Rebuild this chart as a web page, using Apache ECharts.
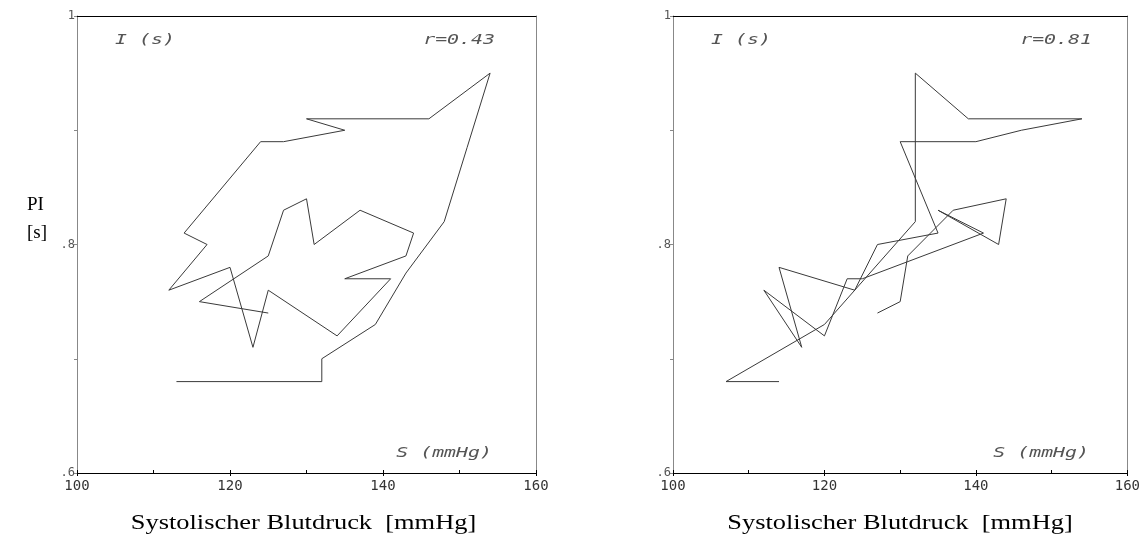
<!DOCTYPE html>
<html>
<head>
<meta charset="utf-8">
<script src="https://cdn.jsdelivr.net/npm/echarts@6/dist/echarts.min.js"></script>
<style>
  html, body { margin: 0; padding: 0; background: #fff; }
  #chart { width: 1143px; height: 546px; }
</style>
</head>
<body>
<div id="chart"></div>
<script>
// Pulse interval I (s) against systolic pressure S (mmHg), two loops
const leftS  = [113,132,132,139,143,148,151,154,146,130,135,127,124,114,117,112,120,123,125,134,141,135,143,144,137,131,130,127,125,116,125];
const leftI  = [0.68,0.68,0.70,0.73,0.775,0.82,0.885,0.95,0.91,0.91,0.90,0.89,0.89,0.81,0.80,0.76,0.78,0.71,0.76,0.72,0.77,0.77,0.79,0.81,0.83,0.80,0.84,0.83,0.79,0.75,0.74];
const rightS = [114,107,120,132,132,139,154,146,140,130,135,127,124,114,117,112,120,123,125,141,135,143,144,137,131,130,127];
const rightI = [0.68,0.68,0.73,0.82,0.95,0.91,0.91,0.90,0.89,0.89,0.81,0.80,0.76,0.78,0.71,0.76,0.72,0.77,0.77,0.81,0.83,0.80,0.84,0.83,0.79,0.75,0.74];

const rLabels = ['r=0.43', 'r=0.81'];
const xLabelValues = [100, 120, 140, 160];
const yLabelValues = [0.6, 0.8, 1];
const yLabelTexts  = ['.6', '.8', '1'];
const yAxisName = ['PI', '[s]'];
const xAxisTitle = 'Systolischer Blutdruck  [mmHg]';
const innerYName = 'I (s)';
const innerXName = 'S (mmHg)';

const grids = [
  { left: 77, top: 16, width: 459, height: 457 },
  { left: 673, top: 16, width: 460, height: 457 }
];

const tickFont = 'DejaVu Sans Mono';
const xAxes = [], yAxes = [];
grids.forEach((g, i) => {
  xAxes.push({
    gridIndex: i, type: 'value', min: 100, max: 160, interval: 10, position: 'bottom',
    axisLine: { lineStyle: { color: '#000', width: 1 } },
    axisTick: { inside: true, length: 3, lineStyle: { color: '#000' } },
    splitLine: { show: false },
    axisLabel: {
      margin: 6, color: '#333', fontFamily: tickFont, fontSize: 14,
      formatter: v => xLabelValues.indexOf(v) >= 0 ? String(v) : ''
    }
  });
  xAxes.push({
    gridIndex: i, type: 'value', min: 100, max: 160, interval: 20, position: 'bottom',
    axisLine: { show: false },
    axisTick: { inside: false, length: 3, lineStyle: { color: '#000' } },
    splitLine: { show: false }, axisLabel: { show: false }
  });
  xAxes.push({
    gridIndex: i, type: 'value', min: 100, max: 160, position: 'top',
    axisLine: { lineStyle: { color: '#000', width: 1 } },
    axisTick: { show: false }, splitLine: { show: false }, axisLabel: { show: false }
  });
  yAxes.push({
    gridIndex: i, type: 'value', min: 0.6, max: 1, interval: 0.1, position: 'left',
    axisLine: { lineStyle: { color: '#888', width: 1 } },
    axisTick: { length: 3, lineStyle: { color: '#888' } },
    splitLine: { show: false },
    axisLabel: {
      margin: 2, color: '#555', fontFamily: tickFont, fontSize: 12,
      formatter: v => {
        const k = yLabelValues.findIndex(t => Math.abs(t - v) < 1e-6);
        return k >= 0 ? yLabelTexts[k] : '';
      }
    }
  });
  yAxes.push({
    gridIndex: i, type: 'value', min: 0.6, max: 1, position: 'right',
    axisLine: { lineStyle: { color: '#888', width: 1 } },
    axisTick: { show: false }, splitLine: { show: false }, axisLabel: { show: false }
  });
});

const pairs = (xs, ys) => xs.map((x, k) => [x, ys[k]]);
const lineStyle = { color: '#3a3a3a', width: 1 };

const series = [
  { type: 'line', xAxisIndex: 0, yAxisIndex: 0, data: pairs(leftS, leftI),
    showSymbol: false, lineStyle: lineStyle, animation: false },
  { type: 'line', xAxisIndex: 3, yAxisIndex: 2, data: pairs(rightS, rightI),
    showSymbol: false, lineStyle: lineStyle, animation: false }
];

const plotFont = 'italic 14px "DejaVu Sans Mono"';
function plotText(text, x, y, align) {
  return {
    type: 'text', x: x, y: y, scaleX: 1.42, scaleY: 1, silent: true,
    style: { text: text, font: plotFont, fill: '#555', align: align, verticalAlign: 'middle' }
  };
}

const graphic = [];
grids.forEach((g, i) => {
  graphic.push(plotText(innerYName, g.left + 38, 40, 'left'));
  graphic.push(plotText(rLabels[i], g.left + g.width - 41, 40, 'right'));
  graphic.push(plotText(innerXName, g.left + g.width - 44, 453, 'right'));
  graphic.push({
    type: 'text', x: g.left + g.width / 2 - 3, y: 523, scaleX: 1.2, scaleY: 1, silent: true,
    style: { text: xAxisTitle, font: '22px "Liberation Serif"', fill: '#000',
             align: 'center', verticalAlign: 'middle' }
  });
});
graphic.push({
  type: 'text', x: 27, y: 205, silent: true,
  style: { text: yAxisName[0], font: '19px "Liberation Serif"', fill: '#000', verticalAlign: 'middle' }
});
graphic.push({
  type: 'text', x: 27, y: 233, silent: true,
  style: { text: yAxisName[1], font: '19px "Liberation Serif"', fill: '#000', verticalAlign: 'middle' }
});

const chart = echarts.init(document.getElementById('chart'), null, { renderer: 'canvas' });
chart.setOption({
  animation: false,
  backgroundColor: '#fff',
  grid: grids,
  xAxis: xAxes,
  yAxis: yAxes,
  series: series,
  graphic: graphic
});
</script>
</body>
</html>
